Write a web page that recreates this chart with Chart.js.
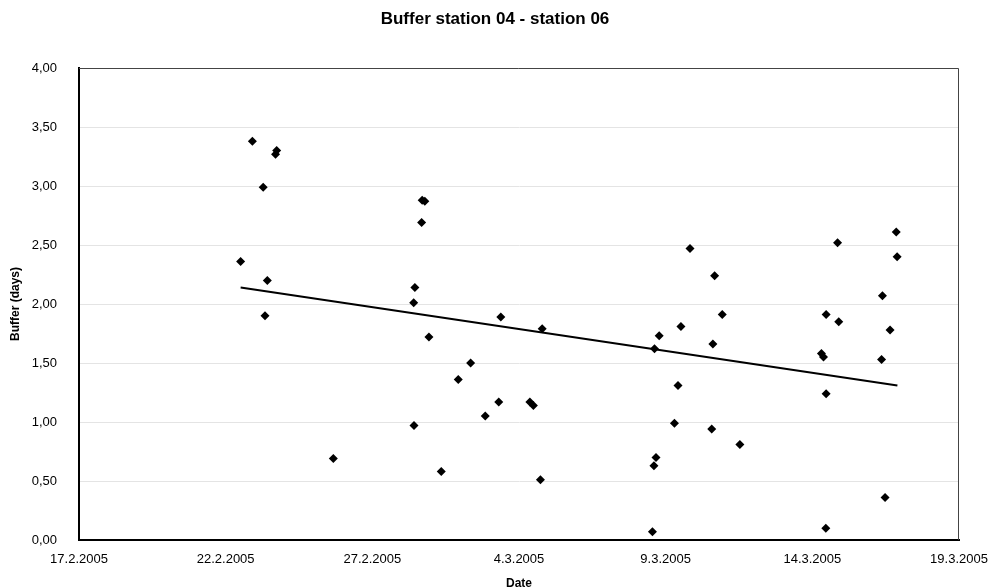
<!DOCTYPE html>
<html>
<head>
<meta charset="utf-8">
<script src="https://cdn.jsdelivr.net/npm/chart.js@4/dist/chart.umd.min.js"></script>
<style>
  html, body { margin: 0; padding: 0; background: #fff; }
  #wrap { width: 990px; height: 587px; }
</style>
</head>
<body>
<div id="wrap"><canvas id="bufferChart"></canvas></div>
<script>
// days after 17.2.2005 (fractional = time of day)
const startDate = new Date(2005, 1, 17);
const dayOffsets = [5.51, 5.91, 6.28, 6.34, 6.42, 6.70, 6.74, 8.67, 11.41, 11.42,
  11.45, 11.68, 11.70, 11.79, 11.93, 12.35, 12.93, 13.35, 13.85, 14.31,
  14.38, 15.37, 15.49, 15.73, 15.79, 19.55, 19.60, 19.62, 19.67, 19.78,
  20.30, 20.42, 20.52, 20.83, 21.57, 21.61, 21.67, 21.93, 22.53, 25.31,
  25.38, 25.46, 25.47, 25.47, 25.86, 25.90, 27.36, 27.39, 27.48, 27.65,
  27.86, 27.89];
const bufferDays = [2.36, 3.38, 2.99, 1.90, 2.20, 3.27, 3.30, 0.69, 2.01, 0.97,
  2.14, 2.69, 2.88, 2.87, 1.72, 0.58, 1.36, 1.50, 1.05, 1.17,
  1.89, 1.17, 1.14, 0.51, 1.79, 0.07, 0.63, 1.62, 0.70, 1.73,
  0.99, 1.31, 1.81, 2.47, 0.94, 1.66, 2.24, 1.91, 0.81, 1.58,
  1.55, 0.10, 1.24, 1.91, 2.52, 1.85, 1.53, 2.07, 0.36, 1.78,
  2.61, 2.40];
// linear trend line, start and end
const trendDays = [5.51, 27.90];
const trendValues = [2.14, 1.31];

const points = dayOffsets.map((d, i) => ({ x: d, y: bufferDays[i] }));
const trend = trendDays.map((d, i) => ({ x: d, y: trendValues[i] }));

function dateLabel(v) {
  const d = new Date(startDate.getTime());
  d.setDate(d.getDate() + Math.round(v));
  return d.getDate() + '.' + (d.getMonth() + 1) + '.' + d.getFullYear();
}

// frame round the plot area
const plotFrame = {
  id: 'plotFrame',
  afterDraw(chart) {
    const a = chart.chartArea, ctx = chart.ctx;
    ctx.save();
    ctx.strokeStyle = '#444';
    ctx.lineWidth = 1;
    ctx.beginPath();
    ctx.moveTo(a.left, a.top + 0.5);
    ctx.lineTo(a.right - 0.5, a.top + 0.5);
    ctx.lineTo(a.right - 0.5, a.bottom);
    ctx.stroke();
    ctx.restore();
  }
};

Chart.defaults.font.family = 'Arial, "Liberation Sans", sans-serif';
Chart.defaults.color = '#000';

new Chart(document.getElementById('bufferChart'), {
  type: 'scatter',
  data: {
    datasets: [{
      label: 'Buffer',
      data: points,
      pointStyle: 'rectRot',
      pointRadius: 4.5,
      pointHoverRadius: 4.5,
      backgroundColor: '#000',
      borderColor: '#000',
      borderWidth: 0
    }, {
      label: 'Trend',
      type: 'line',
      data: trend,
      borderColor: '#000',
      borderWidth: 2,
      pointRadius: 0,
      fill: false
    }]
  },
  options: {
    responsive: true,
    maintainAspectRatio: false,
    animation: false,
    layout: { padding: { left: 0, right: 0, top: 0, bottom: 0 } },
    plugins: {
      legend: { display: false },
      tooltip: { enabled: false },
      title: {
        display: true,
        text: 'Buffer station 04 - station 06',
        font: { size: 17, weight: 'bold' },
        color: '#000',
        padding: { top: 9, bottom: 38.6 }
      }
    },
    scales: {
      x: {
        type: 'linear',
        min: 0,
        max: 30,
        afterFit: s => { s.height = 47; s.paddingRight = 31; s.paddingLeft = 0; },
        ticks: {
          stepSize: 5,
          padding: 12,
          font: { size: 13 },
          maxRotation: 0,
          callback: v => dateLabel(v)
        },
        grid: { display: false, drawTicks: false },
        border: { display: true, color: '#000', width: 2 },
        title: {
          display: true,
          text: 'Date',
          font: { size: 12, weight: 'bold', lineHeight: 1 },
          padding: { top: 0, bottom: -3 }
        }
      },
      y: {
        min: 0,
        max: 4,
        afterFit: s => { s.width = 79; },
        ticks: {
          stepSize: 0.5,
          padding: 22,
          font: { size: 13 },
          callback: v => v.toFixed(2).replace('.', ',')
        },
        grid: {
          color: '#e4e4e4',
          drawTicks: false,
          lineWidth: 1
        },
        border: { display: true, color: '#000', width: 2, dash: [] },
        title: {
          display: true,
          text: 'Buffer (days)',
          font: { size: 12, weight: 'bold' },
          padding: { top: 8, bottom: 8 }
        }
      }
    }
  },
  plugins: [plotFrame]
});
</script>
</body>
</html>
